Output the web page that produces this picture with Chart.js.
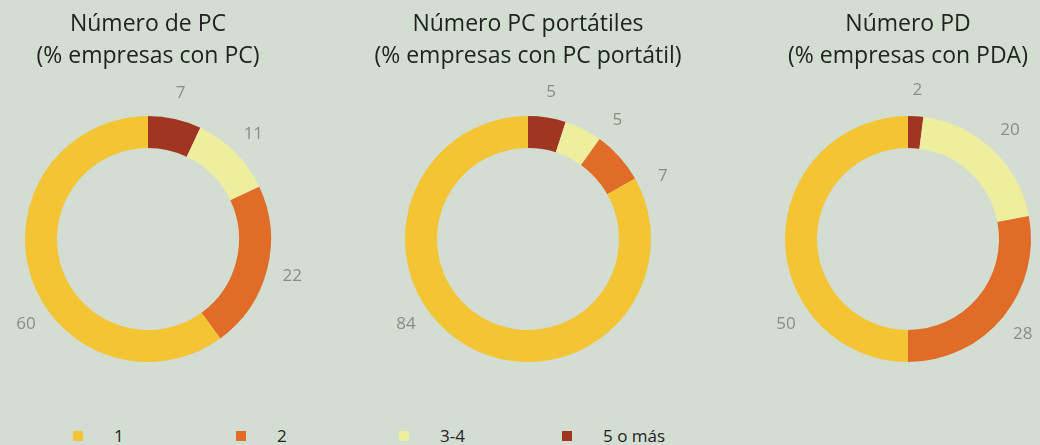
<!DOCTYPE html>
<html>
<head>
<meta charset="utf-8">
<script src="https://cdn.jsdelivr.net/npm/chart.js@4/dist/chart.umd.min.js"></script>
<style>
  html, body { margin: 0; padding: 0; }
  body { width: 1040px; height: 445px; background: #d4ddd2; overflow: hidden; position: relative; font-family: "Open Sans", sans-serif; }
  .box { position: absolute; top: 0; width: 380px; height: 380px; }
  .legend { position: absolute; left: 73px; top: 424px; display: flex; }
  .item { width: 163px; display: flex; align-items: center; font-size: 17px; color: #222; }
  .sq { width: 10px; height: 10px; margin-right: 31px; }
</style>
</head>
<body>
<div class="box" style="left:-42px"><canvas id="c1"></canvas></div>
<div class="box" style="left:338px"><canvas id="c2"></canvas></div>
<div class="box" style="left:718px"><canvas id="c3"></canvas></div>
<div class="legend" id="legend"></div>
<script>
// datos
const categorias = ['1', '2', '3-4', '5 o más'];
const colores = ['#f3c433', '#e06c28', '#eeee9f', '#a03522'];

const titulos = [
    ['Número de PC', '(% empresas con PC)'],
    ['Número PC portátiles', '(% empresas con PC portátil)'],
    ['Número PD', '(% empresas con PDA)']
];
const pcValores = [60, 22, 11, 7];
const portatilValores = [84, 7, 5, 5];
const pdaValores = [50, 28, 20, 2];

// etiquetas fuera del anillo
const etiquetasPlugin = {
    id: 'etiquetas',
    afterDatasetsDraw(chart) {
        const ctx = chart.ctx;
        const meta = chart.getDatasetMeta(0);
        const values = chart.data.datasets[0].data;
        const gap = 28 * Math.PI / 180;
        let prev = -Infinity;
        ctx.save();
        ctx.font = '17px "Open Sans"';
        ctx.fillStyle = '#8a8c8c';
        ctx.textAlign = 'center';
        ctx.textBaseline = 'middle';
        meta.data.forEach((arc, i) => {
            const p = arc.getProps(['x', 'y', 'startAngle', 'endAngle', 'outerRadius'], true);
            let a = (p.startAngle + p.endAngle) / 2;
            // la porción grande lleva la etiqueta abajo a la izquierda
            if (p.endAngle - p.startAngle >= Math.PI - 0.01) {
                a = -Math.PI / 2 + 235 * Math.PI / 180;
            } else {
                // separar etiquetas de porciones pequeñas
                a = Math.max(a, prev + gap);
                prev = a;
            }
            const r = p.outerRadius + 26;
            ctx.fillText(values[i], p.x + Math.cos(a) * r, p.y + Math.sin(a) * r);
        });
        ctx.restore();
    }
};

function dibujar(id, titulo, valores) {
    new Chart(document.getElementById(id), {
        type: 'doughnut',
        data: {
            labels: categorias.slice().reverse(),
            datasets: [{
                data: valores.slice().reverse(),
                backgroundColor: colores.slice().reverse(),
                borderWidth: 0
            }]
        },
        options: {
            responsive: false,
            animation: false,
            cutout: '74%',
            layout: { padding: { left: 0, right: 0, top: 0, bottom: 18 } },
            plugins: {
                legend: { display: false },
                tooltip: { enabled: false },
                title: {
                    display: true,
                    text: titulo,
                    color: '#222',
                    font: { family: 'Open Sans', size: 23, weight: 'normal', lineHeight: 1.37 },
                    padding: { top: 9, bottom: 44 }
                }
            }
        },
        plugins: [etiquetasPlugin]
    });
}

['c1', 'c2', 'c3'].forEach(id => {
    const c = document.getElementById(id);
    c.width = 380; c.height = 380;
});
dibujar('c1', titulos[0], pcValores);
dibujar('c2', titulos[1], portatilValores);
dibujar('c3', titulos[2], pdaValores);

// leyenda
const legend = document.getElementById('legend');
categorias.forEach((cat, i) => {
    const item = document.createElement('div');
    item.className = 'item';
    item.innerHTML = '<span class="sq" style="background:' + colores[i] + '"></span><span>' + cat + '</span>';
    legend.appendChild(item);
});
</script>
</body>
</html>
